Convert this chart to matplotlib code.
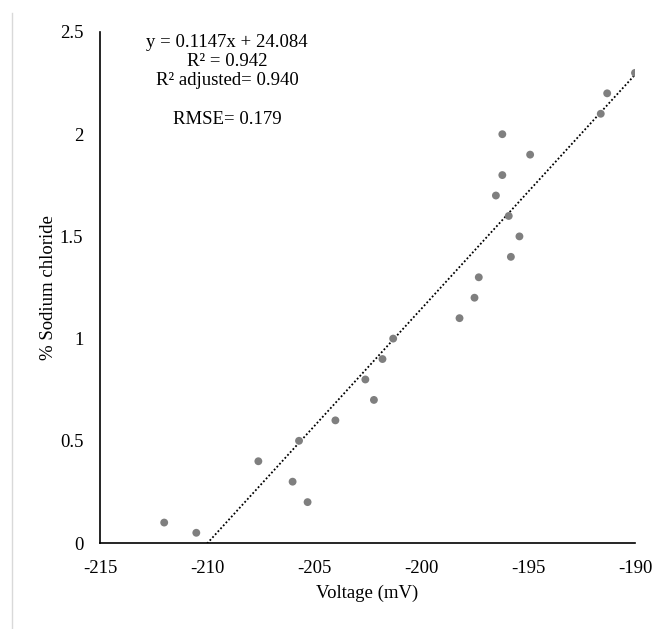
import matplotlib
matplotlib.use("Agg")
import matplotlib.pyplot as plt
from matplotlib.lines import Line2D
import numpy as np

voltage = [-212.0, -210.5, -207.6, -206.0, -205.7, -205.3, -204.0, -202.6, -202.2,
           -201.8, -201.3, -198.2, -197.5, -197.3, -196.5, -196.2, -196.2, -195.9,
           -195.8, -195.4, -194.9, -191.6, -191.3, -190.0]
nacl = [0.1, 0.05, 0.4, 0.3, 0.5, 0.2, 0.6, 0.8, 0.7,
        0.9, 1.0, 1.1, 1.2, 1.3, 1.7, 2.0, 1.8, 1.6,
        1.4, 1.5, 1.9, 2.1, 2.2, 2.3]
slope, intercept = 0.1147, 24.084
x_ticks = [-215, -210, -205, -200, -195, -190]
y_ticks = [0, 0.5, 1, 1.5, 2, 2.5]
y_tick_labels = ["0", "0.5", "1", "1.5", "2", "2.5"]
annotation = "y = 0.1147x + 24.084\nR² = 0.942\nR² adjusted= 0.940\n\nRMSE= 0.179"

plt.rcParams['font.family'] = ['Liberation Serif', 'DejaVu Serif']
FS = 13.5

W, H = 665, 629
fig = plt.figure(figsize=(W / 100, H / 100), dpi=100)
ax = fig.add_axes([100 / W, 1 - 543 / H, 535 / W, 511 / H])

ax.scatter(voltage, nacl, s=32, color="#7f7f7f", edgecolors="none", zorder=3)
xf = np.array([min(voltage), max(voltage)])
ax.plot(xf, slope * xf + intercept, linestyle=(0, (1, 1.2)), color="black",
        linewidth=1.3, zorder=2)

ax.set_xlim(-215, -190)
ax.set_ylim(0, 2.5)
ax.set_xticks(x_ticks)
ax.set_xticklabels([str(t) for t in x_ticks])
ax.set_yticks(y_ticks)
ax.set_yticklabels(y_tick_labels)
ax.tick_params(length=0, labelsize=FS, pad=12)
ax.tick_params(axis='y', pad=12)
for s in ["top", "right"]:
    ax.spines[s].set_visible(False)
for s in ["left", "bottom"]:
    ax.spines[s].set_color("black")
    ax.spines[s].set_linewidth(1.2)

ax.set_xlabel("Voltage (mV)", fontsize=FS, labelpad=6)
ax.set_ylabel("% Sodium chloride", fontsize=FS, labelpad=2)

fig.text(227 / W, 1 - 34 / H, annotation, ha="center", va="top",
         fontsize=FS, linespacing=1.17)

fig.add_artist(Line2D([11.5 / W, 11.5 / W], [0, 1 - 13 / H], color="#d9d9d9",
                      linewidth=1.0, transform=fig.transFigure))

fig.savefig("out.png", dpi=100)
